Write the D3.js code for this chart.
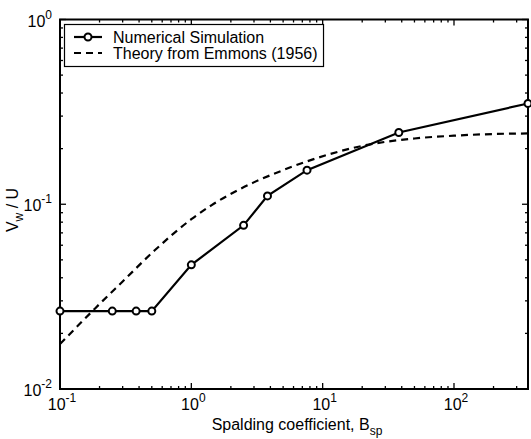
<!DOCTYPE html>
<html><head><meta charset="utf-8">
<script src="https://cdn.jsdelivr.net/npm/d3@7"></script>
<style>
body{margin:0;background:#fff;}
text{font-family:"Liberation Sans",Arial,Helvetica,sans-serif;fill:#000;}
</style></head>
<body><svg id="c" width="531" height="439"></svg>
<script>
// Numerical simulation data
const simX = [0.1, 0.25, 0.38, 0.5, 1.0, 2.5, 3.8, 7.6, 38, 366];
const simY = [0.0264, 0.0264, 0.0264, 0.0264, 0.047, 0.0769, 0.111, 0.153, 0.2447, 0.351];
// Theory from Emmons (1956)
const thX = [0.1, 0.185, 0.3, 0.529, 1.0, 1.43, 2.2, 5.0, 10.7, 20, 50, 100, 200, 366];
const thY = [0.0175, 0.0273, 0.0382, 0.0565, 0.083, 0.099, 0.118, 0.153, 0.1845, 0.207, 0.227, 0.235, 0.24, 0.2416];
const xTickExp = [-1, 0, 1, 2];
const yTickExp = [-2, -1, 0];
const legendLabels = ["Numerical Simulation", "Theory from Emmons (1956)"];

const svg = d3.select("#c");
const L = 60, R = 528, T = 19.5, B = 389;
const x = d3.scaleLog().domain([0.1, 366]).range([L, R]);
const y = d3.scaleLog().domain([0.01, 1]).range([B, T]);

// minor ticks
const xMinor = [], yMinor = [];
for (let e = -1; e <= 2; e++) for (let m = 2; m <= 9; m++) { const v = m * Math.pow(10, e); if (v < 366) xMinor.push(v); }
for (let e = -2; e <= -1; e++) for (let m = 2; m <= 9; m++) yMinor.push(m * Math.pow(10, e));
const xMajor = xTickExp.map(e => Math.pow(10, e));
const yMajor = yTickExp.map(e => Math.pow(10, e));

const g = svg.append("g").attr("stroke", "#000").attr("stroke-width", 1.3);
xMinor.forEach(v => { g.append("line").attr("x1", x(v)).attr("x2", x(v)).attr("y1", B).attr("y2", B - 3);
  g.append("line").attr("x1", x(v)).attr("x2", x(v)).attr("y1", T).attr("y2", T + 3); });
xMajor.forEach(v => { g.append("line").attr("x1", x(v)).attr("x2", x(v)).attr("y1", B).attr("y2", B - 6);
  g.append("line").attr("x1", x(v)).attr("x2", x(v)).attr("y1", T).attr("y2", T + 6); });
yMinor.forEach(v => { g.append("line").attr("y1", y(v)).attr("y2", y(v)).attr("x1", L).attr("x2", L + 3);
  g.append("line").attr("y1", y(v)).attr("y2", y(v)).attr("x1", R).attr("x2", R - 3); });
yMajor.forEach(v => { g.append("line").attr("y1", y(v)).attr("y2", y(v)).attr("x1", L).attr("x2", L + 6);
  g.append("line").attr("y1", y(v)).attr("y2", y(v)).attr("x1", R).attr("x2", R - 6); });

// box
svg.append("rect").attr("x", L).attr("y", T).attr("width", R - L).attr("height", B - T)
  .attr("fill", "none").attr("stroke", "#000").attr("stroke-width", 2);

// tick labels
xTickExp.forEach(e => {
  const t = svg.append("text").attr("x", x(Math.pow(10, e)) + 2).attr("y", 410).attr("text-anchor", "middle").attr("font-size", 16);
  t.append("tspan").text("10");
  t.append("tspan").attr("dy", -8).attr("font-size", 12).text(e);
});
yTickExp.forEach(e => {
  const t = svg.append("text").attr("x", 52).attr("y", y(Math.pow(10, e)) + 7).attr("text-anchor", "end").attr("font-size", 16);
  t.append("tspan").text("10");
  t.append("tspan").attr("dy", -8).attr("font-size", 12).text(e);
});

// axis labels
const xl = svg.append("text").attr("x", 297).attr("y", 430).attr("text-anchor", "middle").attr("font-size", 16);
xl.append("tspan").text("Spalding coefficient, B");
xl.append("tspan").attr("dy", 5).attr("font-size", 12).text("sp");
const yl = svg.append("text").attr("transform", "translate(18,210) rotate(-90)").attr("text-anchor", "middle").attr("font-size", 16);
yl.append("tspan").text("V");
yl.append("tspan").attr("dy", 5).attr("font-size", 12).text("w");
yl.append("tspan").attr("dy", -5).text(" / U");

// clip
svg.append("clipPath").attr("id", "clip").append("rect").attr("x", L).attr("y", T).attr("width", R - L).attr("height", B - T);

const thData = thX.map((v, i) => [v, thY[i]]);
const simData = simX.map((v, i) => [v, simY[i]]);
svg.append("path").attr("d", d3.line().x(d => x(d[0])).y(d => y(d[1])).curve(d3.curveMonotoneX)(thData)).attr("fill", "none")
  .attr("stroke", "#000").attr("stroke-width", 2.2).attr("stroke-dasharray", "7,5").attr("clip-path", "url(#clip)");
svg.append("path").attr("d", d3.line().x(d => x(d[0])).y(d => y(d[1]))(simData)).attr("fill", "none")
  .attr("stroke", "#000").attr("stroke-width", 2.2);
svg.selectAll("circle.sim").data(simData).join("circle").attr("class", "sim")
  .attr("cx", d => x(d[0])).attr("cy", d => y(d[1])).attr("r", 3.5)
  .attr("fill", "#fff").attr("stroke", "#000").attr("stroke-width", 2);

// legend
const lg = svg.append("g");
const box = lg.append("rect").attr("x", 64.5).attr("y", 24.5).attr("height", 42).attr("fill", "#fff").attr("stroke", "#000").attr("stroke-width", 1.2);
lg.append("line").attr("x1", 74).attr("x2", 102).attr("y1", 37).attr("y2", 37).attr("stroke", "#000").attr("stroke-width", 2.2);
lg.append("circle").attr("cx", 88).attr("cy", 37).attr("r", 3.5).attr("fill", "#fff").attr("stroke", "#000").attr("stroke-width", 2);
lg.append("line").attr("x1", 74).attr("x2", 102).attr("y1", 53).attr("y2", 53).attr("stroke", "#000").attr("stroke-width", 2.2).attr("stroke-dasharray", "7,5");
const t1 = lg.append("text").attr("x", 113).attr("y", 42.5).attr("font-size", 16).text(legendLabels[0]);
const t2 = lg.append("text").attr("x", 113).attr("y", 58.5).attr("font-size", 16).text(legendLabels[1]);
const w = Math.max(t1.node().getComputedTextLength(), t2.node().getComputedTextLength());
box.attr("width", 113 + w + 6 - 64.5);
</script></body></html>
